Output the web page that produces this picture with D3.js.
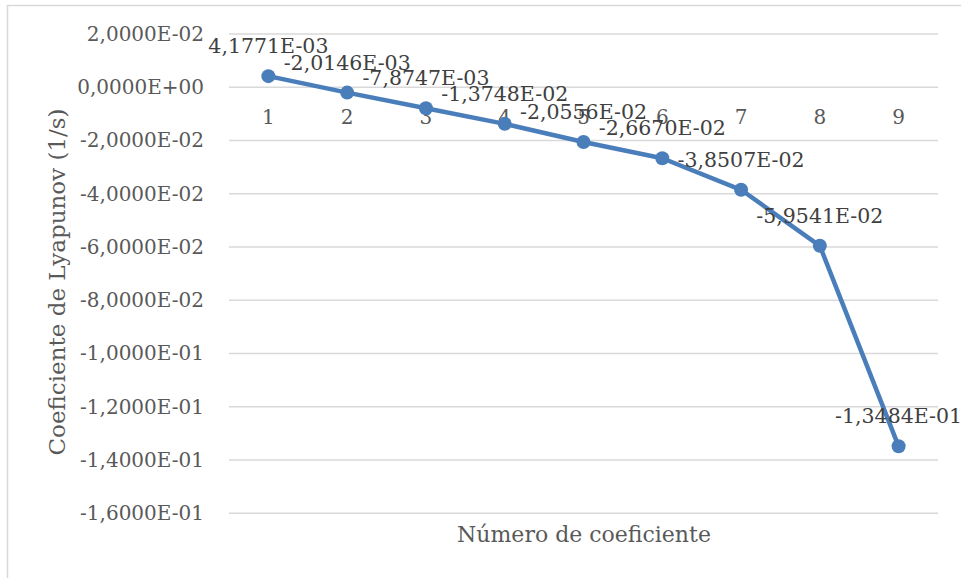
<!DOCTYPE html>
<html>
<head>
<meta charset="utf-8">
<script src="https://cdn.jsdelivr.net/npm/d3@7"></script>
<style>
    body { margin: 0; background: #fff; }
    text { font-family: "DejaVu Serif", serif; }
</style>
</head>
<body>
<div id="chart"></div>
<script>
// datos
var categorias = ["1", "2", "3", "4", "5", "6", "7", "8", "9"];
var valores = [4.1771e-3, -2.0146e-3, -7.8747e-3, -1.3748e-2, -2.0556e-2, -2.6670e-2, -3.8507e-2, -5.9541e-2, -1.3484e-1];
var etiquetas = ["4,1771E-03", "-2,0146E-03", "-7,8747E-03", "-1,3748E-02", "-2,0556E-02", "-2,6670E-02", "-3,8507E-02", "-5,9541E-02", "-1,3484E-01"];
var ticksY = [0.02, 0, -0.02, -0.04, -0.06, -0.08, -0.10, -0.12, -0.14, -0.16];
var ticksYLabels = ["2,0000E-02", "0,0000E+00", "-2,0000E-02", "-4,0000E-02", "-6,0000E-02", "-8,0000E-02", "-1,0000E-01", "-1,2000E-01", "-1,4000E-01", "-1,6000E-01"];

var width = 961;
var height = 578;
var padding = {
    left: 229,
    right: 23,
    top: 34,
    bottom: 65
}

var svg = d3.select('#chart')
            .append('svg')
                .attr("width", width)
                .attr("height", height);

// marco del grafico
svg.append("rect")
    .attr("x", 7.5)
    .attr("y", 5.5)
    .attr("width", 960)
    .attr("height", 580)
    .attr("fill", "white")
    .attr("stroke", "#d9d9d9")
    .attr("stroke-width", 1.5);

var g = svg.append("g")
            .attr("transform", "translate(" + padding.left + "," + padding.top + ")");

var canvasWidth = width - padding.left - padding.right;
var canvasHeight = 513.3 - padding.top;

var xScale = d3.scaleBand()
                .domain(categorias)
                .range([0, canvasWidth]);

var yScale = d3.scaleLinear()
                .domain([-0.16, 0.02])
                .range([canvasHeight, 0]);

// lineas de cuadricula
g.selectAll(".grid")
    .data(ticksY)
    .enter()
    .append("line")
    .attr("x1", 0)
    .attr("x2", canvasWidth)
    .attr("y1", function(d){ return yScale(d); })
    .attr("y2", function(d){ return yScale(d); })
    .attr("stroke", "#d9d9d9")
    .attr("stroke-width", 1.5);

// eje y
var yAxis = g.append("g")
    .call(d3.axisLeft(yScale)
        .tickValues(ticksY)
        .tickSize(0)
        .tickPadding(25)
        .tickFormat(function(d, i){ return ticksYLabels[i]; }));
yAxis.select(".domain").remove();
yAxis.selectAll("text")
    .attr("fill", "#595959")
    .style("font-size", "20px")
    .style("font-family", "DejaVu Serif");

// eje x (cruza en 0)
var xAxis = g.append("g")
    .attr("transform", "translate(0," + yScale(0) + ")")
    .call(d3.axisBottom(xScale).tickSize(0).tickPadding(23));
xAxis.select(".domain").remove();
xAxis.selectAll("text")
    .attr("fill", "#595959")
    .style("font-size", "20px")
    .style("font-family", "DejaVu Serif");

var lineFunc = d3.line()
                .x(function(d, i){ return xScale(categorias[i]) + xScale.bandwidth() / 2; })
                .y(function(d){ return yScale(d); });

g.append("path")
    .attr("d", lineFunc(valores))
    .attr("fill", "none")
    .attr("stroke", "#4a7ebb")
    .attr("stroke-width", 4.5)
    .attr("stroke-linejoin", "round");

g.selectAll("circle")
    .data(valores)
    .enter()
    .append("circle")
    .attr("cx", function(d, i){ return xScale(categorias[i]) + xScale.bandwidth() / 2; })
    .attr("cy", function(d){ return yScale(d); })
    .attr("r", 7)
    .attr("fill", "#4a7ebb");

// etiquetas de datos
g.selectAll(".etq")
    .data(valores)
    .enter()
    .append("text")
    .attr("x", function(d, i){ return xScale(categorias[i]) + xScale.bandwidth() / 2; })
    .attr("y", function(d){ return yScale(d) - 30; })
    .attr("dy", "0.35em")
    .attr("text-anchor", "middle")
    .attr("fill", "#404040")
    .style("font-size", "20.5px")
    .text(function(d, i){ return etiquetas[i]; });

// titulos de ejes
svg.append("text")
    .attr("x", 584)
    .attr("y", 534)
    .attr("dy", "0.35em")
    .attr("text-anchor", "middle")
    .attr("fill", "#595959")
    .style("font-size", "22px")
    .text("Número de coeficiente");

svg.append("text")
    .attr("transform", "translate(57,282) rotate(-90)")
    .attr("dy", "0.35em")
    .attr("text-anchor", "middle")
    .attr("fill", "#595959")
    .style("font-size", "23px")
    .text("Coeficiente de Lyapunov (1/s)");
</script>
</body>
</html>
